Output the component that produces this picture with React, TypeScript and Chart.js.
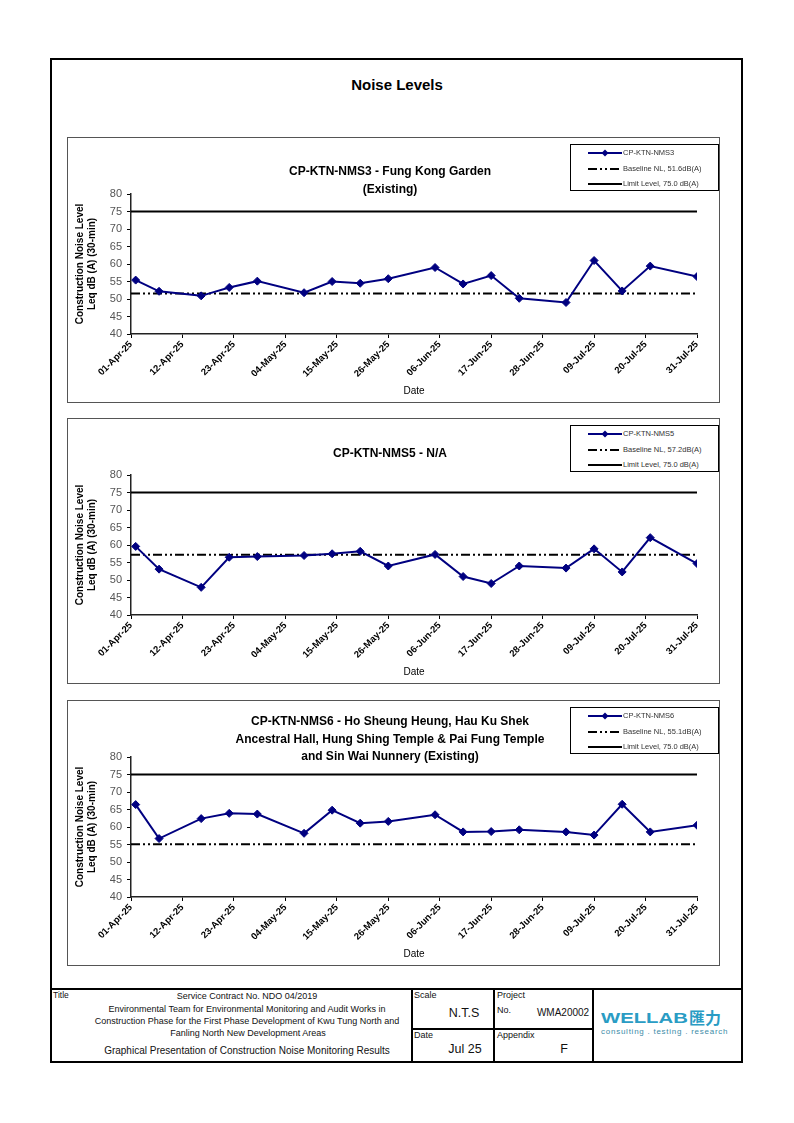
import React, { useEffect, useRef } from "react";
import { Chart, registerables } from "chart.js";

Chart.register(...registerables);

// ---------- data ----------
const START_DATE = "2025-04-01";
const X_MAX_DAYS = 121;
const X_STEP_DAYS = 11;
const xTickLabels = [
  "01-Apr-25", "12-Apr-25", "23-Apr-25", "04-May-25", "15-May-25", "26-May-25",
  "06-Jun-25", "17-Jun-25", "28-Jun-25", "09-Jul-25", "20-Jul-25", "31-Jul-25",
];
const yMin = 40;
const yMax = 80;
const yStep = 5;

const sampleDates = [
  "2025-04-02", "2025-04-07", "2025-04-16", "2025-04-22", "2025-04-28", "2025-05-08",
  "2025-05-14", "2025-05-20", "2025-05-26", "2025-06-05", "2025-06-11", "2025-06-17",
  "2025-06-23", "2025-07-03", "2025-07-09", "2025-07-15", "2025-07-21", "2025-07-31",
];

const nms3Values = [55.4, 52.2, 50.9, 53.3, 55.1, 51.8, 55.0, 54.5, 55.8, 59.0, 54.3, 56.7, 50.2, 49.0, 61.0, 52.3, 59.4, 56.4];
const nms5Values = [59.6, 53.1, 47.9, 56.5, 56.7, 57.0, 57.5, 58.2, 54.0, 57.3, 51.0, 49.0, 54.0, 53.4, 58.9, 52.3, 62.1, 54.7];
const nms6Values = [66.4, 56.7, 62.4, 63.9, 63.7, 58.2, 64.8, 61.1, 61.6, 63.5, 58.6, 58.7, 59.2, 58.6, 57.7, 66.5, 58.6, 60.5];

const nms3Baseline = 51.6;
const nms5Baseline = 57.2;
const nms6Baseline = 55.1;
const limitLevel = 75.0;

const stationNames = ["CP-KTN-NMS3", "CP-KTN-NMS5", "CP-KTN-NMS6"];
const chartTitles = [
  ["CP-KTN-NMS3 - Fung Kong Garden", "(Existing)"],
  ["CP-KTN-NMS5 - N/A"],
  ["CP-KTN-NMS6 - Ho Sheung Heung, Hau Ku Shek", "Ancestral Hall, Hung Shing Temple & Pai Fung Temple", "and Sin Wai Nunnery (Existing)"],
];
const baselineLabels = ["Baseline NL,  51.6dB(A)", "Baseline NL,  57.2dB(A)", "Baseline NL,  55.1dB(A)"];
const limitLabel = "Limit Level, 75.0 dB(A)";
const yAxisTitle = ["Construction Noise Level", "Leq dB (A) (30-min)"];
const xAxisTitle = "Date";

// ---------- helpers ----------
const FONT = '"Liberation Sans", Arial, sans-serif';
const DAY_MS = 86400000;
const dayOffset = (d: string) => Math.round((Date.parse(d) - Date.parse(START_DATE)) / DAY_MS);
const BASE_DASH = [9, 3, 2, 3, 2, 3];

type ChartProps = { values: number[]; baseline: number; station: string; baseLabel: string };

function NoiseChart({ values, baseline, station, baseLabel }: ChartProps) {
  const ref = useRef<HTMLCanvasElement>(null);
  useEffect(() => {
    const days = sampleDates.map(dayOffset);
    const chart = new Chart(ref.current!, {
      type: "line",
      data: {
        datasets: [
          {
            label: station,
            data: days.map((d, i) => ({ x: d, y: values[i] })),
            borderColor: "#000080",
            backgroundColor: "#000080",
            borderWidth: 2,
            pointStyle: "rectRot",
            pointRadius: 4,
            pointBorderWidth: 1,
            tension: 0,
          },
          {
            label: baseLabel,
            data: [{ x: 0, y: baseline }, { x: X_MAX_DAYS, y: baseline }],
            borderColor: "#000",
            borderWidth: 2,
            borderDash: BASE_DASH,
            pointRadius: 0,
          },
          {
            label: limitLabel,
            data: [{ x: 0, y: limitLevel }, { x: X_MAX_DAYS, y: limitLevel }],
            borderColor: "#000",
            borderWidth: 2,
            pointRadius: 0,
          },
        ],
      },
      options: {
        animation: false,
        responsive: false,
        layout: { padding: { top: 57, right: 23, left: 0, bottom: 0 } },
        plugins: { legend: { display: false }, tooltip: { enabled: false }, title: { display: false } },
        scales: {
          x: {
            type: "linear",
            min: 0,
            max: X_MAX_DAYS,
            ticks: {
              stepSize: X_STEP_DAYS,
              autoSkip: false,
              maxRotation: 45,
              minRotation: 45,
              padding: 1,
              color: "#000",
              font: { family: FONT, size: 9.5, weight: "bold" },
              callback: (v: any) => xTickLabels[Math.round(Number(v) / X_STEP_DAYS)] ?? "",
            },
            grid: { drawOnChartArea: false, drawTicks: true, tickLength: 4, color: "#000" },
            border: { display: true, color: "#222", width: 1.5 },
            title: {
              display: true,
              text: xAxisTitle,
              color: "#000",
              font: { family: FONT, size: 10 },
              padding: { top: 0, bottom: 6 },
            },
            afterFit: (s: any) => { s.height = 69; },
          },
          y: {
            type: "linear",
            min: yMin,
            max: yMax,
            ticks: {
              stepSize: yStep,
              padding: 5,
              color: "#555",
              font: { family: FONT, size: 11 },
            },
            grid: { drawOnChartArea: false, drawTicks: true, tickLength: 4, color: "#000" },
            border: { display: true, color: "#222", width: 1.5 },
            title: {
              display: true,
              text: yAxisTitle,
              color: "#000",
              font: { family: FONT, size: 10, weight: "bold" },
              padding: { top: 7, bottom: 0 },
            },
            afterFit: (s: any) => { s.width = 64; },
          },
        },
      },
    } as any);
    return () => chart.destroy();
  }, []);
  return (
    <canvas
      ref={ref}
      width={653}
      height={266}
      style={{ position: "absolute", left: 0, top: 0, width: 653, height: 266 }}
    />
  );
}

function LegendSample({ kind }: { kind: "series" | "base" | "limit" }) {
  return (
    <svg width={34} height={8} style={{ position: "absolute", left: 17, top: -4 }}>
      {kind === "series" && (
        <>
          <line x1={0} y1={4} x2={34} y2={4} stroke="#000080" strokeWidth={2} />
          <polygon points="17,0.5 20.5,4 17,7.5 13.5,4" fill="#000080" />
        </>
      )}
      {kind === "base" && (
        <line x1={0} y1={4} x2={34} y2={4} stroke="#000" strokeWidth={2} strokeDasharray={BASE_DASH.join(" ")} />
      )}
      {kind === "limit" && <line x1={0} y1={4} x2={34} y2={4} stroke="#000" strokeWidth={2} />}
    </svg>
  );
}

function Legend({ station, baseLabel }: { station: string; baseLabel: string }) {
  const rows: { kind: "series" | "base" | "limit"; text: string; y: number }[] = [
    { kind: "series", text: station, y: 9 },
    { kind: "base", text: baseLabel, y: 24.5 },
    { kind: "limit", text: limitLabel, y: 40 },
  ];
  return (
    <div
      style={{
        position: "absolute",
        left: 503,
        top: 7,
        width: 149,
        height: 47,
        border: "1px solid #000",
        boxSizing: "border-box",
        background: "#fff",
      }}
    >
      {rows.map((r) => (
        <div key={r.kind} style={{ position: "absolute", left: 0, top: r.y - 1, width: 148, height: 0 }}>
          <LegendSample kind={r.kind} />
          <span
            style={{
              position: "absolute",
              left: 52,
              top: -5,
              fontSize: 7.5,
              lineHeight: "10px",
              color: "#333",
              whiteSpace: "nowrap",
              fontFamily: FONT,
            }}
          >
            {r.text}
          </span>
        </div>
      ))}
    </div>
  );
}

function Panel({ top, idx, values, baseline, titleTop }: { top: number; idx: number; values: number[]; baseline: number; titleTop: number }) {
  return (
    <div style={{ position: "absolute", left: 67, top, width: 653, height: 266 }}>
      <div
        style={{
          position: "absolute",
          left: 0,
          top: 0,
          width: 653,
          height: 266,
          border: "1px solid #555",
          boxSizing: "border-box",
        }}
      />
      <NoiseChart values={values} baseline={baseline} station={stationNames[idx]} baseLabel={baselineLabels[idx]} />
      <div
        style={{
          position: "absolute",
          left: 83,
          width: 480,
          top: titleTop,
          textAlign: "center",
          fontFamily: FONT,
          fontWeight: "bold",
          fontSize: 12,
          lineHeight: "17.5px",
          color: "#000",
        }}
      >
        {chartTitles[idx].map((t) => (
          <div key={t}>{t}</div>
        ))}
      </div>
      <Legend station={stationNames[idx]} baseLabel={baselineLabels[idx]} />
    </div>
  );
}

const txt = (
  left: number,
  top: number,
  text: string,
  size: number,
  extra: React.CSSProperties = {}
) => (
  <div
    style={{
      position: "absolute",
      left,
      top,
      fontSize: size,
      lineHeight: `${Math.round(size * 1.2)}px`,
      whiteSpace: "nowrap",
      color: "#111",
      fontFamily: FONT,
      ...extra,
    }}
  >
    {text}
  </div>
);

const ctr = (cx: number, cy: number, text: string, size: number, extra: React.CSSProperties = {}) => (
  <div
    style={{
      position: "absolute",
      left: cx - 200,
      width: 400,
      top: cy - Math.round(size * 1.2) / 2,
      textAlign: "center",
      fontSize: size,
      lineHeight: `${Math.round(size * 1.2)}px`,
      whiteSpace: "nowrap",
      color: "#111",
      fontFamily: FONT,
      ...extra,
    }}
  >
    {text}
  </div>
);

const hLine = (x1: number, x2: number, y: number, w = 1.5) => (
  <div style={{ position: "absolute", left: x1, top: y - w / 2, width: x2 - x1, height: w, background: "#000" }} />
);
const vLine = (x: number, y1: number, y2: number, w = 1.5) => (
  <div style={{ position: "absolute", left: x - w / 2, top: y1, width: w, height: y2 - y1, background: "#000" }} />
);

export default function App() {
  return (
    <div
      style={{
        position: "absolute",
        left: 0,
        top: 0,
        width: 794,
        height: 1123,
        background: "#fff",
        fontFamily: FONT,
        overflow: "hidden",
      }}
    >
      <div
        style={{
          position: "absolute",
          left: 50,
          top: 58,
          width: 693,
          height: 1005,
          border: "2px solid #000",
          boxSizing: "border-box",
        }}
      />
      {ctr(397, 85, "Noise Levels", 15, { fontWeight: "bold", color: "#000" })}

      <Panel top={137} idx={0} values={nms3Values} baseline={nms3Baseline} titleTop={26} />
      <Panel top={418} idx={1} values={nms5Values} baseline={nms5Baseline} titleTop={27} />
      <Panel top={700} idx={2} values={nms6Values} baseline={nms6Baseline} titleTop={13} />

      {/* footer title block */}
      {hLine(51, 742, 989, 2)}
      {vLine(412, 989, 1062)}
      {vLine(494, 989, 1062)}
      {vLine(593, 989, 1062)}
      {hLine(412, 593, 1029)}

      {txt(53, 990, "Title", 8.5)}
      {ctr(247, 996, "Service Contract No. NDO 04/2019", 9)}
      {ctr(247, 1009, "Environmental Team for Environmental Monitoring and Audit Works in", 9)}
      {ctr(247, 1021, "Construction Phase for the First Phase Development of Kwu Tung North and", 9)}
      {ctr(248, 1033, "Fanling North New Development Areas", 9)}
      {ctr(247, 1051, "Graphical Presentation of Construction Noise Monitoring Results", 10)}

      {txt(414, 990, "Scale", 9)}
      {ctr(464, 1013, "N.T.S", 12.5)}
      {txt(414, 1030, "Date", 9)}
      {ctr(465, 1049, "Jul 25", 12.5)}

      {txt(497, 990, "Project", 9)}
      {txt(497, 1005, "No.", 9)}
      {ctr(563, 1013, "WMA20002", 10)}
      {txt(497, 1030, "Appendix", 9)}
      {ctr(564, 1049, "F", 12.5)}

      <div
        style={{
          position: "absolute",
          left: 601,
          top: 1010,
          fontFamily: FONT,
          fontWeight: "bold",
          fontSize: 14.5,
          lineHeight: "16px",
          color: "#2a9cc4",
          transform: "scaleX(1.4)",
          transformOrigin: "left top",
          whiteSpace: "nowrap",
        }}
      >
        WELLAB
      </div>
      <div
        style={{
          position: "absolute",
          left: 689,
          top: 1008,
          fontFamily: '"Noto Sans CJK TC", "Noto Sans CJK SC", sans-serif',
          fontWeight: "bold",
          fontSize: 16,
          lineHeight: "18px",
          color: "#2a9cc4",
          whiteSpace: "nowrap",
        }}
      >
        匯力
      </div>
      {txt(601, 1027, "consulting . testing . research", 8, { color: "#3d8ca8", letterSpacing: 0.75 })}
    </div>
  );
}
